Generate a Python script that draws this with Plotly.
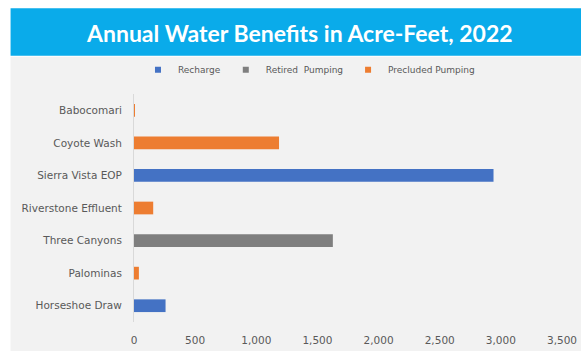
import plotly.graph_objects as go

categories = ["Babocomari", "Coyote Wash", "Sierra Vista EOP", "Riverstone Effluent",
              "Three Canyons", "Palominas", "Horseshoe Draw"]
recharge = [None, None, 2940, None, None, None, 258]
retired_pumping = [None, None, None, None, 1626, None, None]
precluded_pumping = [5, 1186, None, 157, None, 40, None]
x_ticks = [0, 500, 1000, 1500, 2000, 2500, 3000, 3500]
x_tick_labels = ["0", "500", "1,000", "1,500", "2,000", "2,500", "3,000", "3,500"]

# canvas size: the captured picture comes out slightly shrunk, so compensate
W, H = 589, 358
sx, sy = W / 581, H / 351

def X(p):
    return p * sx

def Y(p):
    return p * sy

L = X(132)
R = W - X(562)
T = Y(92)
B = H - Y(318)
pw, ph = W - L - R, H - T - B

def px(x):
    return (x - L) / pw

def py(y):
    return (H - B - y) / ph

fig = go.Figure()
series = [("Recharge", recharge, "#4472C4"),
          ("Retired  Pumping", retired_pumping, "#7F7F7F"),
          ("Precluded Pumping", precluded_pumping, "#ED7D31")]
for name, vals, col in series:
    fig.add_trace(go.Bar(y=categories, x=vals, name=name, orientation="h",
                         marker=dict(color=col, line=dict(width=0)), showlegend=False))
for name, vals, col in series:
    fig.add_trace(go.Scatter(x=[None], y=[None], mode="markers", name=name,
                             marker=dict(symbol="square", size=6, color=col)))

fig.update_layout(
    width=W, height=H,
    margin=dict(l=L, r=R, t=T, b=B),
    paper_bgcolor="white",
    plot_bgcolor="rgba(0,0,0,0)",
    barmode="relative",
    bargap=0.61,
    font=dict(family="DejaVu Sans", size=10.5, color="#595959"),
    showlegend=True,
    legend=dict(orientation="h", x=px(X(136)), xanchor="left", y=py(Y(68)), yanchor="middle",
                font=dict(size=9, color="#595959"), bgcolor="rgba(0,0,0,0)",
                itemwidth=30, traceorder="normal", tracegroupgap=0),
    xaxis=dict(range=[0, 3500], tickvals=x_ticks, ticktext=x_tick_labels,
               showgrid=False, zeroline=False, showline=False,
               ticklabelstandoff=10, fixedrange=True),
    yaxis=dict(autorange="reversed", showgrid=False, zeroline=False,
               showline=True, linecolor="#D9D9D9", linewidth=1,
               ticklabelstandoff=9),
    shapes=[
        dict(type="rect", xref="paper", yref="paper", x0=px(X(8)), x1=px(W + 30), y0=py(H + 30), y1=py(Y(55)),
             fillcolor="#F2F2F2", line=dict(width=0), layer="below"),
        dict(type="rect", xref="paper", yref="paper", x0=px(X(8)), x1=px(W + 30), y0=py(Y(54)), y1=py(Y(7)),
             fillcolor="#0AABEA", line=dict(width=0), layer="below"),
    ],
    annotations=[
        dict(text="<b>Annual Water Benefits in Acre-Feet, 2022</b>", xref="paper", yref="paper",
             x=px(X(298)), y=py(Y(32)), xanchor="center", yanchor="middle", showarrow=False,
             font=dict(family="Lato", size=23, color="white")),
    ],
)

fig.write_html("out.html", config={"displayModeBar": False},
               post_script="document.body.style.margin='0';document.body.style.overflow='hidden';")
